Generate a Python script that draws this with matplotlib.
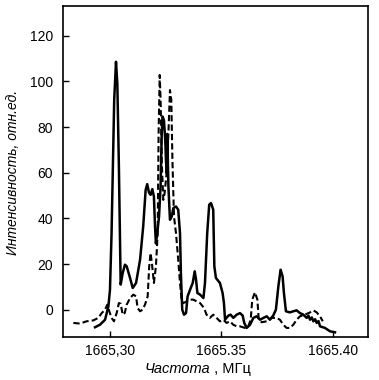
import matplotlib
matplotlib.use("Agg")
import matplotlib.pyplot as plt

# Solid curve (frequency MHz, intensity rel. units)
solid_freq = [1665.2933, 1665.2955, 1665.2978, 1665.2993, 1665.3000, 1665.3007, 1665.3019,
              1665.3027, 1665.3033, 1665.3040, 1665.3048, 1665.3057, 1665.3067, 1665.3075,
              1665.3090, 1665.3102, 1665.3117, 1665.3135, 1665.3149, 1665.3160, 1665.3167,
              1665.3175, 1665.3182, 1665.3190, 1665.3197, 1665.3202, 1665.3206, 1665.3212,
              1665.3220, 1665.3227, 1665.3232, 1665.3236, 1665.3242, 1665.3248, 1665.3251,
              1665.3254, 1665.3257, 1665.3262, 1665.3269, 1665.3277, 1665.3284, 1665.3296,
              1665.3306, 1665.3314, 1665.3318, 1665.3324, 1665.3332, 1665.3341, 1665.3348,
              1665.3359, 1665.3371, 1665.3380, 1665.3386, 1665.3392, 1665.3404, 1665.3419,
              1665.3426, 1665.3436, 1665.3445, 1665.3453, 1665.3463, 1665.3468, 1665.3475,
              1665.3493, 1665.3505, 1665.3511, 1665.3516, 1665.3531, 1665.3541, 1665.3553,
              1665.3568, 1665.3583, 1665.3595, 1665.3602, 1665.3613, 1665.3628, 1665.3643,
              1665.3658, 1665.3673, 1665.3688, 1665.3703, 1665.3717, 1665.3732, 1665.3744,
              1665.3755, 1665.3765, 1665.3774, 1665.3780, 1665.3789, 1665.3807, 1665.3822,
              1665.3837, 1665.3852, 1665.3867, 1665.3882, 1665.3890, 1665.3897, 1665.3905,
              1665.3912, 1665.3920, 1665.3927, 1665.3935, 1665.3942, 1665.3964, 1665.3987,
              1665.4009]
solid_int = [-7.7, -6.6, -4.4, 1.5, 8.7, 33, 92,
             108.6, 99, 62.7, 11, 16, 19.7, 19,
             13.9, 9.5, 11.7, 21.9, 36.5, 52.5, 55,
             51.3, 50.3, 52.8, 49.6, 36.5, 29, 33.5,
             40.8, 54, 77, 84.6, 83, 74, 65.6,
             59.8, 77, 54, 39.4, 40.8, 44.5, 45.2,
             43.8, 33.5, 16, 0, -2.2, -1.5, 5.8,
             8.7, 11.7, 16.8, 13.1, 7.3, 6.6, 5.1,
             11.7, 33.5, 46, 46.7, 43.8, 19, 13.9,
             11.7, 7.3, 2.9, -4.4, -2.6, -2.2, -3.6,
             -2.2, -1.5, -2.6, -5.8, -8, -6.6, -3.6,
             -2.9, -4.4, -3.6, -2.9, -4.4, -2.6, 0,
             10.2, 17.5, 14.6, 7.3, -0.7, -1.2, -0.7,
             -0.3, -1.5, -2.2, -3.6, -2.6, -4.4, -3.4,
             -5.1, -4.2, -5.8, -5.0, -7.3, -8, -9.5,
             -9.9]

# Dashed curve
dash_freq = [1665.2836, 1665.2865, 1665.2895, 1665.2925, 1665.2948, 1665.2963, 1665.2978,
             1665.2988, 1665.2997, 1665.3007, 1665.3018, 1665.3030, 1665.3040, 1665.3048,
             1665.3057, 1665.3066, 1665.3075, 1665.3090, 1665.3105, 1665.3117, 1665.3124,
             1665.3135, 1665.3146, 1665.3157, 1665.3169, 1665.3176, 1665.3182, 1665.3188,
             1665.3197, 1665.3206, 1665.3214, 1665.3218, 1665.3223, 1665.3227, 1665.3233,
             1665.3239, 1665.3245, 1665.3254, 1665.3262, 1665.3269, 1665.3275, 1665.3280,
             1665.3287, 1665.3296, 1665.3306, 1665.3314, 1665.3321, 1665.3329, 1665.3344,
             1665.3359, 1665.3374, 1665.3389, 1665.3404, 1665.3422, 1665.3433, 1665.3448,
             1665.3463, 1665.3478, 1665.3493, 1665.3508, 1665.3523, 1665.3538, 1665.3553,
             1665.3568, 1665.3583, 1665.3605, 1665.3620, 1665.3631, 1665.3638, 1665.3650,
             1665.3661, 1665.3667, 1665.3680, 1665.3703, 1665.3725, 1665.3747, 1665.3762,
             1665.3777, 1665.3792, 1665.3807, 1665.3822, 1665.3837, 1665.3852, 1665.3874,
             1665.3897, 1665.3912, 1665.3927, 1665.3942, 1665.3954]
dash_int = [-5.8, -6.1, -5.1, -4.7, -3.6, -1.5, 0,
            2.2, -0.7, -3.6, -5.1, -1.5, 2.9, 2.6,
            -2.2, -1.5, 2.2, 5.1, 6.6, 5.8, 0.7,
            -0.7, 0, 2.2, 5.8, 19, 24.8, 20.4,
            11.7, 19, 33.5, 77, 102.8, 91.9, 62.7,
            48.1, 51, 59.8, 77, 96.2, 91.9, 65.6,
            40.8, 33.5, 21.9, 11.7, 4.4, 2.9, 3.6,
            4.4, 4.4, 3.6, 2.9, 0.7, -2.2, -3.6,
            -2.2, -3.6, -5.1, -4.4, -5.8, -5.1, -6.6,
            -7.3, -7.3, -8, -7.3, -4.4, 4.4, 7.6,
            4.4, -4.4, -5.5, -5.1, -3.6, -3.6, -4.4,
            -6.6, -8, -8, -6.6, -4.4, -2.9, -2.2,
            -1.2, -0.3, -1.2, -2.9, -5.1]

y_ticks = [0, 20, 40, 60, 80, 100, 120]
x_ticks = [1665.30, 1665.35, 1665.40]
x_tick_labels = ["1665,30", "1665.35", "1665.40"]

font = ["Liberation Sans", "DejaVu Sans"]

fig = plt.figure(figsize=(3.79, 3.80), dpi=100)
ax = fig.add_axes([0.166, 0.113, 0.805, 0.871])

ax.plot(solid_freq, solid_int, color="black", lw=1.8, solid_joinstyle="round")
ax.plot(dash_freq, dash_int, color="black", lw=1.5, linestyle=(0, (3, 1.5)))

ax.set_xlim(1665.2789, 1665.4157)
ax.set_ylim(-12, 133)

ax.set_yticks(y_ticks)
ax.set_yticklabels([str(v) for v in y_ticks], family=font, fontsize=10)
ax.set_xticks(x_ticks)
ax.set_xticklabels(x_tick_labels, family=font, fontsize=10)
ax.tick_params(axis="y", direction="in", length=4, width=1, pad=7)
ax.tick_params(axis="x", direction="in", length=4, width=1, pad=5)

for s in ax.spines.values():
    s.set_linewidth(1.2)

fig.text(0.033, 0.545, "Интенсивность, отн.ед.", fontstyle="italic", fontsize=10,
         family=font, rotation=90, ha="center", va="center")
fig.text(0.555, 0.03, "Частота", fontsize=10.5, ha="right", va="center",
         family=font, fontstyle="italic")
fig.text(0.555, 0.03, " , МГц", fontsize=10.5, ha="left", va="center",
         family=font)

fig.savefig("out.png", dpi=100)
